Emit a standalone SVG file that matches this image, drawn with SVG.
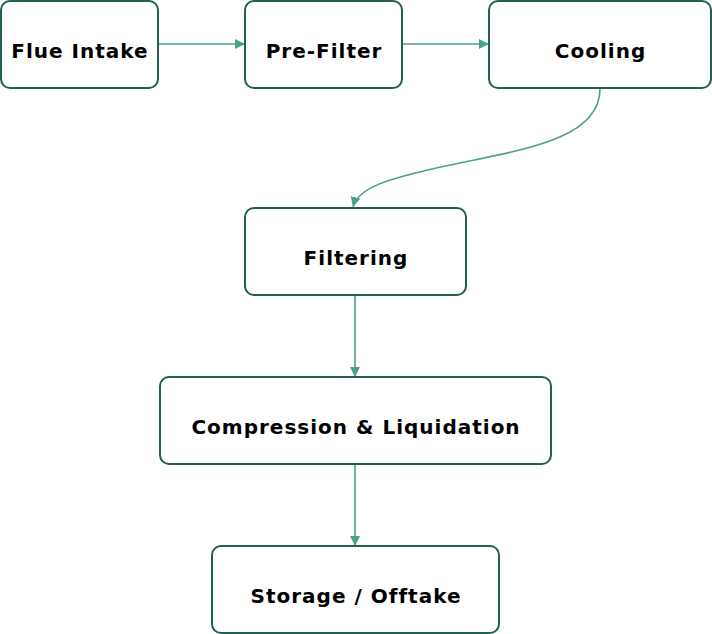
<svg xmlns="http://www.w3.org/2000/svg" width="712" height="634" viewBox="0 0 712 634">
<style>
.node rect{fill:#ffffff;stroke:#215e55;stroke-width:2}
.node text{font-family:"DejaVu Sans","Noto Sans",sans-serif;font-weight:700;font-size:20px;letter-spacing:1px;fill:#000;text-anchor:middle}
.edge{fill:none;stroke:#4aa08a;stroke-width:1.6}
</style>
<defs>
<marker id="arr" viewBox="0 0 10 10" refX="10" refY="5" markerWidth="10" markerHeight="10" markerUnits="userSpaceOnUse" orient="auto">
<path d="M0,0 L10,5 L0,10 z" fill="#4aa08a"/>
</marker>
</defs>
<rect width="712" height="634" fill="#ffffff"/>
<g id="connectors">
<path class="edge" d="M158,44 L245,44" marker-end="url(#arr)"/>
<path class="edge" d="M402,44 L489,44" marker-end="url(#arr)"/>
<path class="edge" d="M600,89 C600,140 520,150 450,165 C385,179 358,188 353,207" marker-end="url(#arr)"/>
<path class="edge" d="M355,295 L355,377" marker-end="url(#arr)"/>
<path class="edge" d="M355,464 L355,546" marker-end="url(#arr)"/>
</g>
<g id="flue-intake" class="node"><rect x="1" y="1" width="157" height="87" rx="9"/><text x="80" y="58">Flue Intake</text></g>
<g id="pre-filter" class="node"><rect x="245" y="1" width="157" height="87" rx="9"/><text x="324" y="58">Pre-Filter</text></g>
<g id="cooling" class="node"><rect x="489" y="1" width="222" height="87" rx="9"/><text x="600.5" y="58">Cooling</text></g>
<g id="filtering" class="node"><rect x="245" y="208" width="221" height="87" rx="9"/><text x="356" y="265">Filtering</text></g>
<g id="compression" class="node"><rect x="160" y="377" width="391" height="87" rx="9"/><text x="356" y="434">Compression &amp; Liquidation</text></g>
<g id="storage" class="node"><rect x="212" y="546" width="287" height="87" rx="9"/><text x="356" y="603">Storage / Offtake</text></g>
</svg>
